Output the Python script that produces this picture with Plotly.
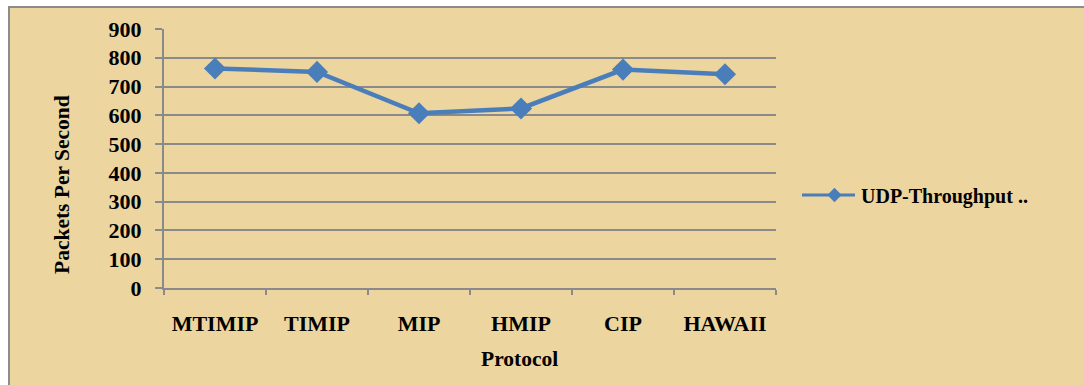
import plotly.graph_objects as go

# UDP throughput per mobility protocol
protocols = ["MTIMIP", "TIMIP", "MIP", "HMIP", "CIP", "HAWAII"]
udp_throughput = [763, 751, 607, 624, 759, 743]
y_ticks = [0, 100, 200, 300, 400, 500, 600, 700, 800, 900]
series_name = "UDP-Throughput .."

W, H = 1084, 385
L, R, T, B = 164, 776, 29, 288  # plot area in pixels


def px_x(px):
    return (px - L) / (R - L)


def px_y(py):
    return (B - py) / (B - T)


SERIF = "Liberation Serif"
font_tick = dict(family=SERIF, size=22, color="#000000")
font_title = dict(family=SERIF, size=21.5, color="#000000")
font_legend = dict(family=SERIF, size=20, color="#000000")
grid_col = "#8a8a8a"
blue = "#4a7ebb"

fig = go.Figure()
fig.add_trace(go.Scatter(
    x=protocols, y=udp_throughput, mode="lines+markers",
    showlegend=False,
    line=dict(color=blue, width=4.5),
    marker=dict(symbol="diamond", size=17, color=blue),
))
# legend entry: small diamond on a longer key line (line drawn as a shape)
fig.add_trace(go.Scatter(
    x=[None], y=[None], mode="markers",
    name=f"<b>{series_name}</b>",
    marker=dict(symbol="diamond", size=11, color=blue),
))

legend_y = 195
fig.update_layout(
    width=W, height=H,
    margin=dict(l=L, r=W - R, t=T, b=H - B, pad=0),
    paper_bgcolor="#ffffff",
    plot_bgcolor="rgba(0,0,0,0)",
    font=font_legend,
    showlegend=True,
    legend=dict(
        x=px_x(808), y=px_y(legend_y), xanchor="left", yanchor="middle",
        bgcolor="rgba(0,0,0,0)", font=font_legend, itemwidth=43,
        borderwidth=0, tracegroupgap=0,
    ),
    shapes=[
        dict(type="rect", xref="paper", yref="paper", layer="below",
             x0=px_x(9), x1=px_x(1090), y0=px_y(7), y1=px_y(392),
             fillcolor="#ecd59f", line=dict(color="#8c8c8c", width=2)),
        dict(type="line", xref="paper", yref="paper", layer="below",
             x0=px_x(802), x1=px_x(855), y0=px_y(legend_y), y1=px_y(legend_y),
             line=dict(color=blue, width=3)),
    ],
    annotations=[
        dict(text="<b>Packets Per Second</b>", xref="paper", yref="paper",
             x=px_x(62), y=px_y(185), textangle=-90, showarrow=False,
             font=font_title, xanchor="center", yanchor="middle"),
        dict(text="<b>Protocol</b>", xref="paper", yref="paper",
             x=px_x(519), y=px_y(359), showarrow=False,
             font=font_title, xanchor="center", yanchor="middle"),
    ],
)

fig.update_xaxes(
    type="category", range=[-0.5, 5.5],
    showline=True, linecolor=grid_col, linewidth=2,
    ticks="outside", tickson="boundaries", ticklen=5, tickcolor=grid_col, tickwidth=2,
    showgrid=False, zeroline=False,
    tickfont=font_tick, ticklabelstandoff=15,
    tickvals=protocols, ticktext=[f"<b>{p}</b>" for p in protocols],
)
fig.update_yaxes(
    range=[0, 900], tickvals=y_ticks, ticktext=[f"<b>{v}</b>" for v in y_ticks],
    showline=True, linecolor=grid_col, linewidth=2,
    ticks="outside", ticklen=7, tickcolor=grid_col, tickwidth=2,
    showgrid=True, gridcolor=grid_col, gridwidth=2, zeroline=False,
    tickfont=font_tick, ticklabelstandoff=9,
)

fig.write_html("out.html")
